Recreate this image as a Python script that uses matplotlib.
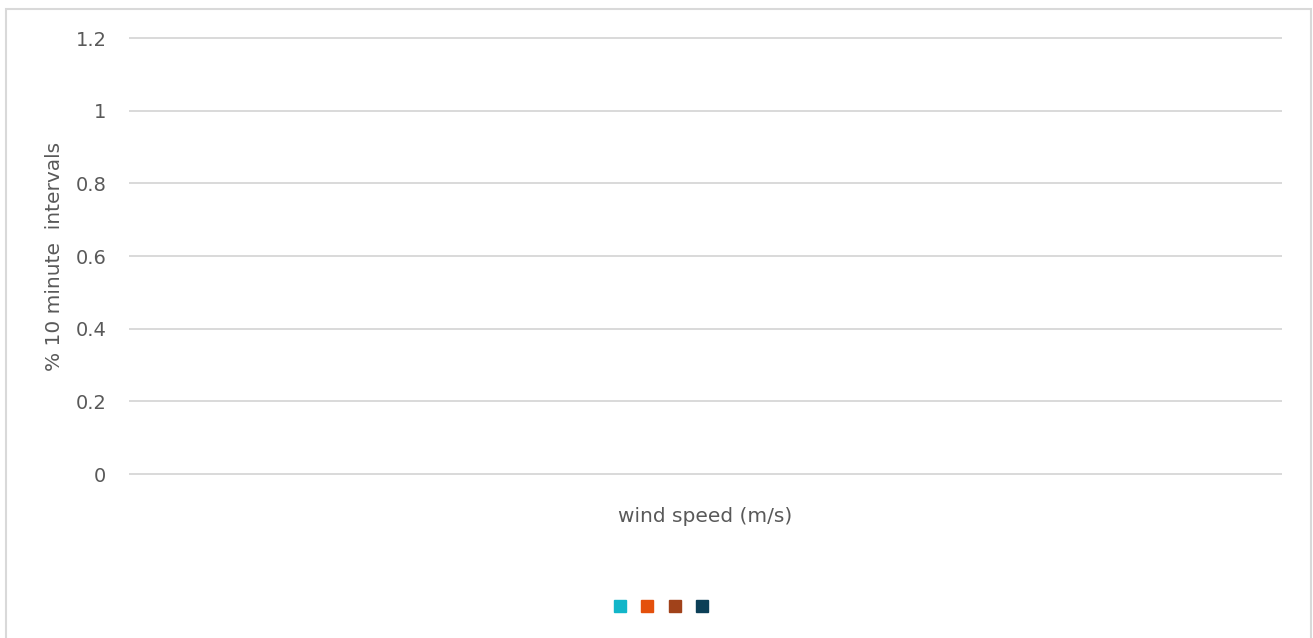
import matplotlib.pyplot as plt
from matplotlib.lines import Line2D
from matplotlib.patches import Rectangle

# chart data (series have no names and no points)
series_names = ['', '', '', '']
series_colors = ['#12b6c9', '#e4500c', '#a1421a', '#0c3f57']
wind_speed = []
y_ticks = [0, 0.2, 0.4, 0.6, 0.8, 1, 1.2]
y_tick_labels = ['0', '0.2', '0.4', '0.6', '0.8', '1', '1.2']

plt.rcParams['font.family'] = ['DejaVu Sans']
text_color = '#595959'
grid_color = '#d9d9d9'

W, H = 1313, 638
fig = plt.figure(figsize=(W / 100, H / 100), dpi=100)

# outer chart border
fig.patches.append(Rectangle((5.5 / W, -0.05), (1311 - 5.5) / W, (H - 8.5) / H + 0.05,
                             transform=fig.transFigure, fill=False,
                             edgecolor=grid_color, linewidth=1.5))

ax = fig.add_axes([130 / W, (H - 474) / H, (1281 - 130) / W, (474 - 38) / H])
for i, name in enumerate(series_names):
    ax.bar(wind_speed, [], color=series_colors[i], label=name)

ax.set_ylim(0, 1.2)
ax.set_xlim(0, 1)
ax.set_yticks(y_ticks)
ax.set_yticklabels(y_tick_labels, color=text_color, fontsize=14)
ax.set_xticks([])
ax.tick_params(axis='y', length=0, pad=17)
for s in ax.spines.values():
    s.set_visible(False)
ax.grid(axis='y', color=grid_color, linewidth=1.4)
ax.set_axisbelow(True)
# keep the 0 and 1.2 gridlines at full width on the axes edges
for gl in ax.get_ygridlines():
    gl.set_clip_on(False)

ax.set_ylabel('% 10 minute  intervals', color=text_color, fontsize=14.5, va='center')
ax.yaxis.set_label_coords((55 - 130) / (1281 - 130), 0.5)
ax.set_xlabel('wind speed (m/s)', color=text_color, fontsize=14.5, labelpad=24)

handles = [Line2D([], [], linestyle='none', marker='s', markersize=8.5,
                  markerfacecolor=c, markeredgecolor=c) for c in series_colors]
fig.legend(handles, series_names, loc='center', ncol=4,
           bbox_to_anchor=(661 / W, (H - 607) / H), frameon=False,
           handlelength=0.6, handletextpad=0.0, columnspacing=0.9, fontsize=13)

fig.savefig('out.png', dpi=100)
